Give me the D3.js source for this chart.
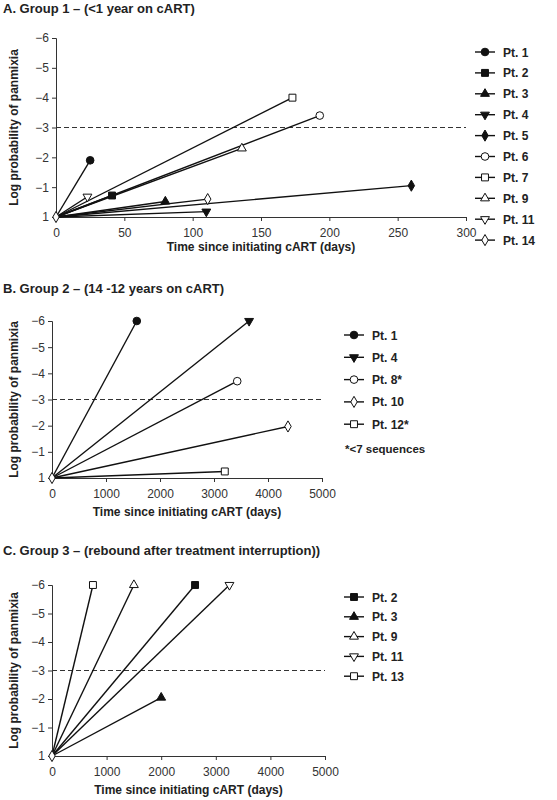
<!DOCTYPE html><html><head><meta charset="utf-8"><script src="https://cdn.jsdelivr.net/npm/d3@7"></script>
<style>body{margin:0;background:#fff}text{font-family:"Liberation Sans",Arial,sans-serif}</style></head><body><svg id="c" width="557" height="800"></svg>
<script>
const yTickValues=[0,-1,-2,-3,-4,-5,-6];
const yTickLabels=["1","\u22121","\u22122","\u22123","\u22124","\u22125","\u22126"];
// Panel A
const patientsA=["Pt. 1","Pt. 2","Pt. 3","Pt. 4","Pt. 5","Pt. 6","Pt. 7","Pt. 9","Pt. 11","Pt. 14"];
const symbolsA=["circleF","squareF","triF","triDownF","diamondF","circleO","squareO","triO","triDownO","diamondO"];
const daysA=[25,41,80,110,260,193,173,136,23,111];
const logpA=[-1.9,-0.72,-0.52,-0.18,-1.05,-3.4,-4.0,-2.3,-0.68,-0.6];
const xTicksA=[0,50,100,150,200,250,300];
// Panel B
const patientsB=["Pt. 1","Pt. 4","Pt. 8*","Pt. 10","Pt. 12*"];
const symbolsB=["circleF","triDownF","circleO","diamondO","squareO"];
const daysB=[1570,3650,3430,4370,3200];
const logpB=[-6,-6,-3.7,-1.97,-0.25];
// Panel C
const patientsC=["Pt. 2","Pt. 3","Pt. 9","Pt. 11","Pt. 13"];
const symbolsC=["squareF","triF","triO","triDownO","squareO"];
const daysC=[2620,2000,1500,3250,750];
const logpC=[-6,-2.05,-6,-6,-6];
const xTicksBC=[0,1000,2000,3000,4000,5000];

const svg=d3.select("#c");
function sym(g,type,x,y){
  const filled=type.endsWith("F");const base=type.slice(0,-1);
  let s={circle:d3.symbolCircle,square:d3.symbolSquare,tri:d3.symbolTriangle,triDown:d3.symbolTriangle,diamond:d3.symbolDiamond}[base];
  let size={circle:46,square:48,tri:34,triDown:34,diamond:36}[base];
  g.append("path").attr("d",d3.symbol().type(s).size(size)())
   .attr("transform",`translate(${x},${y})`+(base==="triDown"?" rotate(180)":""))
   .attr("fill",filled?"#111":"#fff").attr("stroke","#111").attr("stroke-width",1);
}
function panel(o){
  const g=svg.append("g");
  g.append("text").attr("x",3).attr("y",o.titleY).attr("font-size",13).attr("font-weight","bold").attr("fill","#222").text(o.title);
  const x=d3.scaleLinear().domain([0,o.xmax]).range([o.x0,o.x1]);
  const y=d3.scaleLinear().domain([0,-6]).range([o.y0,o.y1]);
  const ax=g.append("g").attr("transform",`translate(0,${o.y0})`).call(d3.axisBottom(x).tickValues(o.xticks).tickSize(4).tickFormat(d3.format("d")));
  const ay=g.append("g").attr("transform",`translate(${o.x0},0)`).call(d3.axisLeft(y).tickValues(yTickValues).tickSize(4).tickFormat((d,i)=>yTickLabels[i]));
  [ax,ay].forEach(a=>{a.selectAll("path,line").attr("stroke","#333");a.selectAll("text").attr("font-size",12).attr("fill","#333").attr("font-family","Liberation Sans,Arial,sans-serif");});
  ax.selectAll("text").attr("dy","1.1em");
  g.append("line").attr("x1",o.x0).attr("x2",o.x1).attr("y1",y(-3)).attr("y2",y(-3)).attr("stroke","#333").attr("stroke-dasharray","5,3");
  g.append("text").attr("x",(o.x0+o.x1)/2).attr("y",o.xTitleY).attr("text-anchor","middle").attr("font-size",12).attr("font-weight","bold").attr("fill","#222").text("Time since initiating cART (days)");
  g.append("text").attr("transform",`translate(18,${(o.y0+o.y1)/2}) rotate(-90)`).attr("text-anchor","middle").attr("font-size",12).attr("font-weight","bold").attr("fill","#222").text("Log probability of panmixia");
  o.days.forEach((d,i)=>{
    g.append("line").attr("x1",x(0)).attr("y1",y(0)).attr("x2",x(d)).attr("y2",y(o.logp[i])).attr("stroke","#111").attr("stroke-width",1.4);
  });
  o.days.forEach((d,i)=>sym(g,o.symbols[i],x(d),y(o.logp[i])));
  sym(g,"diamondO",x(0),y(0));
  o.names.forEach((n,i)=>{
    const ly=o.legY+i*o.legStep;
    g.append("line").attr("x1",o.legX).attr("x2",o.legX+20).attr("y1",ly).attr("y2",ly).attr("stroke","#111").attr("stroke-width",1.4);
    sym(g,o.symbols[i],o.legX+10,ly);
    g.append("text").attr("x",o.legX+28).attr("y",ly+4.5).attr("font-size",12).attr("font-weight","bold").attr("fill","#222").text(n);
  });
  return g;
}
panel({title:"A. Group 1 \u2013 (<1 year on cART)",titleY:13,xmax:300,x0:56,x1:466,y0:217,y1:38,xticks:xTicksA,xTitleY:251,
  days:daysA,logp:logpA,symbols:symbolsA,names:patientsA,legX:475,legY:52,legStep:20.9});
const gB=panel({title:"B. Group 2 \u2013 (14 -12 years on cART)",titleY:293,xmax:5000,x0:52,x1:322,y0:478,y1:321,xticks:xTicksBC,xTitleY:516,
  days:daysB,logp:logpB,symbols:symbolsB,names:patientsB,legX:344,legY:335,legStep:22.3});
gB.append("text").attr("x",345).attr("y",453).attr("font-size",11.5).attr("font-weight","bold").attr("fill","#222").text("*<7 sequences");
panel({title:"C. Group 3 \u2013 (rebound after treatment interruption))",titleY:555,xmax:5000,x0:52,x1:325,y0:756,y1:585,xticks:xTicksBC,xTitleY:794,
  days:daysC,logp:logpC,symbols:symbolsC,names:patientsC,legX:344,legY:597,legStep:19.8});
</script></body></html>
